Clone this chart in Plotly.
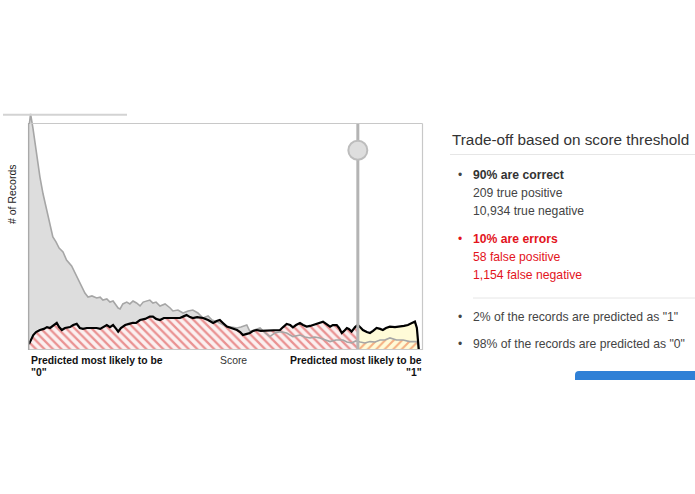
import plotly.graph_objects as go

# ---------------- data ----------------
THRESHOLD = 0.841
HANDLE_COUNT = 88

gray_score = [0.001,0.004,0.010,0.015,0.022,0.028,0.036,0.045,0.054,0.061,0.069,0.077,0.087,0.096,0.109,0.122,0.135,0.143,0.151,0.161,0.173,0.182,0.189,0.199,0.207,0.215,0.228,0.233,0.240,0.250,0.258,0.266,0.275,0.284,0.292,0.301,0.309,0.317,0.325,0.335,0.348,0.361,0.368,0.381,0.394,0.407,0.419,0.432,0.445,0.458,0.468,0.480,0.491,0.506,0.517,0.532,0.542,0.557,0.565,0.578,0.591,0.604,0.616,0.629,0.642,0.659,0.675,0.693,0.706,0.719,0.731,0.744,0.757,0.770,0.785,0.803,0.813,0.825,0.836,0.841,0.847,0.859,0.872,0.885,0.898,0.910,0.923,0.940,0.957,0.974,0.992,0.995,0.997]
gray_count = [99.6,104,97.8,91.2,83.7,76.2,68.7,61.7,55.1,49.8,47.6,44.9,43.2,39.6,37.0,32.2,27.8,25.1,23.3,23.8,22.9,23.3,22.0,22.5,21.1,21.6,18.5,18.1,20.3,21.1,20.3,21.6,20.7,19.4,21.1,21.6,22.0,20.7,21.1,19.4,20.3,18.5,17.2,17.6,16.3,17.2,17.6,16.3,14.1,15.0,13.2,12.5,11.5,10.3,10.1,9.7,10.1,11.0,8.1,8.8,9.7,7.5,5.9,7.5,8.1,7.5,5.9,6.6,5.7,5.3,5.7,5.3,4.4,3.7,4.4,4.4,3.5,3.1,4.0,3.7,3.5,3.1,3.7,3.5,4.4,4.4,5.3,4.4,4.4,3.7,3.7,1.8,0]

black_score = [0.000,0.005,0.011,0.018,0.028,0.038,0.046,0.054,0.061,0.071,0.077,0.084,0.092,0.105,0.113,0.122,0.130,0.138,0.148,0.161,0.173,0.182,0.189,0.199,0.207,0.215,0.223,0.228,0.235,0.246,0.256,0.266,0.274,0.284,0.297,0.309,0.317,0.325,0.335,0.345,0.361,0.376,0.386,0.394,0.403,0.412,0.419,0.430,0.445,0.458,0.471,0.480,0.488,0.496,0.506,0.517,0.532,0.540,0.547,0.555,0.565,0.573,0.582,0.593,0.608,0.624,0.642,0.650,0.659,0.668,0.675,0.683,0.693,0.701,0.710,0.719,0.726,0.737,0.744,0.752,0.760,0.770,0.777,0.787,0.793,0.800,0.806,0.813,0.818,0.825,0.834,0.841,0.849,0.854,0.864,0.872,0.880,0.889,0.898,0.905,0.913,0.923,0.936,0.949,0.959,0.969,0.980,0.987,0.992,0.995,0.997]
black_count = [2.6,4.8,6.6,7.9,8.8,9.3,10.1,9.7,10.6,11.9,10.1,8.8,9.7,10.1,11.0,11.5,9.7,9.3,9.7,9.7,9.7,9.3,10.1,11.0,10.1,11.0,9.3,8.1,9.7,11.0,11.5,12.0,11.9,13.2,13.7,14.7,14.7,13.7,13.2,14.1,14.1,14.1,14.1,14.7,15.4,14.5,14.1,14.5,14.1,13.2,11.9,12.8,13.2,11.9,10.3,9.7,8.8,7.9,6.6,7.0,7.5,8.4,8.8,8.4,8.5,8.8,8.8,10.1,11.5,11.0,10.0,11.0,11.9,11.0,10.3,10.6,11.0,11.9,12.3,12.5,11.5,10.3,11.0,11.0,9.7,7.5,8.4,9.7,9.3,8.1,10.1,11.0,9.7,8.8,7.9,7.5,8.4,9.7,9.3,8.8,9.7,10.3,10.1,10.3,10.6,11.0,11.9,12.5,9.7,4.4,0]

y_title = "# of Records"
x_title = "Score"
left_label = ["Predicted most likely to be", "\"0\""]
right_label = ["Predicted most likely to be", "\"1\""]

panel_title = "Trade-off based on score threshold"
correct_head = "90% are correct"
correct_lines = ["209 true positive", "10,934 true negative"]
error_head = "10% are errors"
error_lines = ["58 false positive", "1,154 false negative"]
share_lines = ["2% of the records are predicted as \"1\"", "98% of the records are predicted as \"0\""]

# ---------------- helpers ----------------
W, H = 695, 494
PL, PR, PT, PB = 28, 423, 112, 350
PW, PH = PR - PL, PB - PT


def px(x):
    return (x - PL) / PW


def py(y):
    return (PB - y) / PH


def split(xs, ys, t):
    left = [(a, b) for a, b in zip(xs, ys) if a <= t]
    right = [(a, b) for a, b in zip(xs, ys) if a >= t]
    return [p[0] for p in left], [p[1] for p in left], [p[0] for p in right], [p[1] for p in right]


gLx, gLy, gRx, gRy = split(gray_score, gray_count, THRESHOLD)
bLx, bLy, bRx, bRy = split(black_score, black_count, THRESHOLD)

FONT = "Liberation Sans, Arial, Helvetica, sans-serif"
RED = "#e3141c"
TXT = "#444444"

fig = go.Figure()

# gray (negative) area left of threshold
fig.add_trace(go.Scatter(x=gLx, y=gLy, mode="lines", fill="tozeroy",
                         fillcolor="#dddddd", line=dict(width=0), hoverinfo="skip"))
# yellow area right of threshold under black curve
fig.add_trace(go.Scatter(x=bRx, y=bRy, mode="lines", fill="tozeroy",
                         fillcolor="#fffbd8", line=dict(width=0), hoverinfo="skip"))
# red hatched area left of threshold under black curve
fig.add_trace(go.Scatter(x=bLx, y=bLy, mode="lines", fill="tozeroy",
                         fillcolor="rgba(0,0,0,0)",
                         fillpattern=dict(shape="\\", fgcolor="#d83434", bgcolor="#fbf0f0",
                                          size=6, solidity=0.38),
                         line=dict(width=0), hoverinfo="skip"))
# orange hatched area right of threshold under gray curve
fig.add_trace(go.Scatter(x=gRx, y=gRy, mode="lines", fill="tozeroy",
                         fillcolor="rgba(0,0,0,0)",
                         fillpattern=dict(shape="/", fgcolor="#ec642c", bgcolor="rgba(0,0,0,0)",
                                          size=6, solidity=0.35),
                         line=dict(width=0), hoverinfo="skip"))
# curves
fig.add_trace(go.Scatter(x=gray_score, y=gray_count, mode="lines",
                         line=dict(color="#a6a6a6", width=1.6), hoverinfo="skip"))
fig.add_trace(go.Scatter(x=black_score, y=black_count, mode="lines",
                         line=dict(color="#000000", width=2.2), hoverinfo="skip"))
# threshold line and handle
fig.add_trace(go.Scatter(x=[THRESHOLD, THRESHOLD], y=[0, 100], mode="lines",
                         line=dict(color="#b4b4b4", width=3), hoverinfo="skip"))
fig.add_trace(go.Scatter(x=[THRESHOLD], y=[HANDLE_COUNT], mode="markers",
                         marker=dict(size=19, color="#dedede", line=dict(color="#bdbdbd", width=2)),
                         hoverinfo="skip"))

shapes = []
# frame
shapes.append(dict(type="line", xref="paper", yref="paper", x0=px(31), x1=px(422.5), y0=py(123.5), y1=py(123.5),
                   line=dict(color="#c8c8c8", width=1.2)))
shapes.append(dict(type="line", xref="paper", yref="paper", x0=px(422.5), x1=px(422.5), y0=py(123.5), y1=py(350),
                   line=dict(color="#c8c8c8", width=1.2)))
shapes.append(dict(type="line", xref="paper", yref="paper", x0=px(28.5), x1=px(422.5), y0=py(349.5), y1=py(349.5),
                   line=dict(color="#c8c8c8", width=1)))
shapes.append(dict(type="line", xref="paper", yref="paper", x0=px(28.7), x1=px(28.7), y0=py(350), y1=py(123),
                   line=dict(color="#a9a9a9", width=1.5)))
# stray tab underline at top-left
shapes.append(dict(type="line", xref="paper", yref="paper", x0=px(3), x1=px(127), y0=py(114.7), y1=py(114.7),
                   line=dict(color="#d3d3d3", width=2)))
# separators in the right panel
shapes.append(dict(type="line", xref="paper", yref="paper", x0=px(450), x1=px(700), y0=py(154.5), y1=py(154.5),
                   line=dict(color="#e6e6e6", width=1)))
shapes.append(dict(type="line", xref="paper", yref="paper", x0=px(473), x1=px(700), y0=py(298), y1=py(298),
                   line=dict(color="#e6e6e6", width=1)))
# blue button (cut off)
bx0, bx1, by0, by1, r = 575, 705, 371, 385, 4
path = (f"M {px(bx0)},{py(by1)} L {px(bx0)},{py(by0 + r)} "
        f"Q {px(bx0)},{py(by0)} {px(bx0 + r)},{py(by0)} "
        f"L {px(bx1)},{py(by0)} L {px(bx1)},{py(by1)} Z")
shapes.append(dict(type="path", xref="paper", yref="paper", path=path,
                   fillcolor="#2f80d6", line=dict(width=0)))
# white strip below button to crop it
shapes.append(dict(type="rect", xref="paper", yref="paper", x0=px(560), x1=px(705), y0=py(380), y1=py(390),
                   fillcolor="white", line=dict(width=0)))

annotations = []


def ann(text, x, y, size, color="#222", anchor="left", angle=0):
    annotations.append(dict(text=text, x=px(x), y=py(y), xref="paper", yref="paper",
                            xanchor=anchor, yanchor="middle", showarrow=False, textangle=angle,
                            font=dict(family=FONT, size=size, color=color)))


ann(y_title, 12, 194, 10.5, "#222", "center", -90)
ann("<b>" + left_label[0] + "</b>", 28.5, 360, 10.4, "#111", "left")
ann("<b>" + left_label[1] + "</b>", 28.5, 372, 10.4, "#111", "left")
ann(x_title, 233, 360, 10.4, "#333", "center")
ann("<b>" + right_label[0] + "</b>", 423.5, 360, 10.4, "#111", "right")
ann("<b>" + right_label[1] + "</b>", 423.5, 372, 10.4, "#111", "right")

ann(panel_title, 449.5, 139, 15.3, "#333", "left")
ann("•", 456, 174.5, 12, TXT)
ann("<b>" + correct_head + "</b>", 470.5, 174.5, 12.2, "#333")
ann(correct_lines[0], 470.5, 192.5, 12.2, TXT)
ann(correct_lines[1], 470.5, 211, 12.2, TXT)
ann("•", 456, 238.5, 12, RED)
ann("<b>" + error_head + "</b>", 470.5, 238.5, 12.2, RED)
ann(error_lines[0], 470.5, 257, 12.2, RED)
ann(error_lines[1], 470.5, 275, 12.2, RED)
ann("•", 456, 317, 12, TXT)
ann(share_lines[0], 470.5, 317, 12.2, TXT)
ann("•", 456, 343.5, 12, TXT)
ann(share_lines[1], 470.5, 343.5, 12.2, TXT)

fig.update_layout(
    width=W, height=H, autosize=False,
    margin=dict(l=PL, r=W - PR, t=PT, b=H - PB, pad=0),
    paper_bgcolor="white", plot_bgcolor="white",
    showlegend=False,
    xaxis=dict(range=[(PL - 29) / 391, (PR - 29) / 391], visible=False, fixedrange=True),
    yaxis=dict(range=[0, PH / 2.27], visible=False, fixedrange=True),
    shapes=shapes, annotations=annotations,
    font=dict(family=FONT),
)

fig.write_html("out.html", config={"displayModeBar": False},
               post_script="document.body.style.margin='0';document.body.style.overflow='hidden';")
